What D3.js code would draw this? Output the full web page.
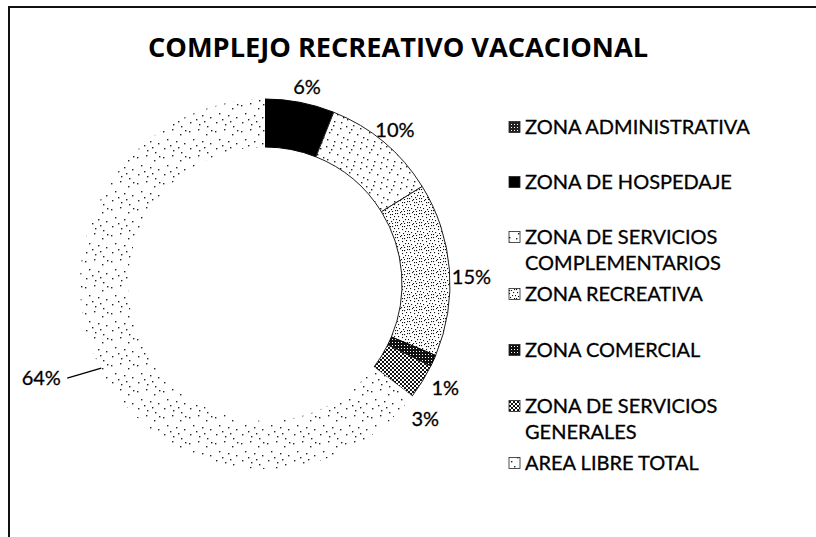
<!DOCTYPE html>
<html><head><meta charset="utf-8">
<script src="https://cdn.jsdelivr.net/npm/d3@7/dist/d3.min.js"></script>
<style>html,body{margin:0;padding:0;background:#fff;}svg{display:block;}</style>
</head><body>
<svg id="chart" width="816" height="537"></svg>
<script>
// ---- data ----
const title = "COMPLEJO RECREATIVO VACACIONAL";
const categories = [
  "ZONA ADMINISTRATIVA",
  "ZONA DE HOSPEDAJE",
  "ZONA DE SERVICIOS COMPLEMENTARIOS",
  "ZONA RECREATIVA",
  "ZONA COMERCIAL",
  "ZONA DE SERVICIOS GENERALES",
  "AREA LIBRE TOTAL"
];
const legendLines = [
  ["ZONA ADMINISTRATIVA"],
  ["ZONA DE HOSPEDAJE"],
  ["ZONA DE SERVICIOS", "COMPLEMENTARIOS"],
  ["ZONA RECREATIVA"],
  ["ZONA COMERCIAL"],
  ["ZONA DE SERVICIOS", "GENERALES"],
  ["AREA LIBRE TOTAL"]
];
const values = [0, 6, 10, 15, 1, 3, 64];
const valueLabels = ["", "6%", "10%", "15%", "1%", "3%", "64%"];

// ---- layout / style (not data) ----
const fills = ["url(#pAdmin)", "#000", "url(#pDotsOutl)", "url(#pStipple)", "url(#pDark)", "url(#pHatch)", "url(#pDots)"];
const strokes = ["#222", "#000", "#222", "#222", "#000", "#222", "none"];
const labelOffset = [[0,0], [7,-15], [11,-12], [22,8], [12,27], [3,37], [-58,12]];
const cx = 265, cy = 284, R = 185, r = 137;

const svg = d3.select("#chart");
const defs = svg.append("defs");
function pat(id, w, h, draw) {
  const p = defs.append("pattern").attr("id", id).attr("patternUnits", "userSpaceOnUse")
    .attr("width", w).attr("height", h);
  p.append("rect").attr("width", w).attr("height", h).attr("fill", "#fff");
  draw(p);
}
function dots(p, pts, s, c) {
  pts.forEach(([x,y]) => p.append("rect").attr("x",x).attr("y",y).attr("width",s).attr("height",s).attr("fill",c));
}
// sparse irregular dots (area libre)
pat("pDots", 26, 26, p => dots(p, [[2,3],[11,1],[19,6],[6,11],[15,13],[23,15],[3,20],[12,22],[20,24],[9,17],[24,2],[17,19]], 1.4, "#222"));
// serv. complementarios
pat("pDotsOutl", 20, 20, p => dots(p, [[1,2],[8,1],[15,4],[4,8],[12,10],[18,13],[2,15],[9,17],[16,18],[6,5]], 1.4, "#222"));
// recreativa (dense stipple)
pat("pStipple", 12, 12, p => dots(p, [[0,1],[3,0],[7,2],[10,1],[1,4],[5,5],[9,4],[11,7],[2,8],[6,9],[8,7],[4,11],[10,10],[0,10],[7,11],[5,2]], 1.1, "#111"));
pat("pDark", 3, 3, p => {
  p.append("rect").attr("width",3).attr("height",3).attr("fill","#111");
  p.append("rect").attr("x",1).attr("y",1).attr("width",1).attr("height",1).attr("fill","#fff");
});
pat("pAdmin", 3, 3, p => {
  p.append("rect").attr("width",3).attr("height",3).attr("fill","#222");
  p.append("rect").attr("x",1).attr("y",1).attr("width",1).attr("height",1).attr("fill","#fff");
});
pat("pHatch", 4, 4, p => {
  p.append("path").attr("d","M0,0L4,4M4,0L0,4").attr("stroke","#111").attr("stroke-width",1);
});

// frame
svg.append("line").attr("x1",8).attr("y1",7).attr("x2",816).attr("y2",7).attr("stroke","#111").attr("stroke-width",2);
svg.append("line").attr("x1",9).attr("y1",6).attr("x2",9).attr("y2",537).attr("stroke","#111").attr("stroke-width",2);

// title
svg.append("text").attr("x", 398).attr("y", 57).attr("text-anchor","middle")
  .attr("font-family","'Open Sans', sans-serif").attr("font-weight","bold").attr("font-size",27)
  .attr("textLength", 500).attr("lengthAdjust","spacingAndGlyphs")
  .attr("fill","#000").text(title);

// donut
const pie = d3.pie().sort(null).value(d => d)(values);
const arc = d3.arc().innerRadius(r).outerRadius(R);
const outerPt = d3.arc().innerRadius(R).outerRadius(R);
const g = svg.append("g").attr("transform", `translate(${cx},${cy})`);
g.selectAll("path.slice").data(pie).join("path").attr("class","slice")
  .attr("d", arc)
  .attr("fill", (d,i) => fills[i])
  .attr("stroke", (d,i) => strokes[i])
  .attr("stroke-width", 1);

// labels
const labelFont = "Lato, sans-serif";
pie.forEach((d,i) => {
  if (!values[i]) return;
  const [bx, by] = outerPt.centroid(d);
  const lx = bx + labelOffset[i][0], ly = by + labelOffset[i][1];
  if (i === values.length - 1) {
    g.append("line").attr("x1", bx + 2).attr("y1", by + 2).attr("x2", lx + 26).attr("y2", ly)
      .attr("stroke","#000").attr("stroke-width",1.4);
  }
  g.append("text").attr("x", lx).attr("y", ly + 7).attr("text-anchor","middle")
    .attr("font-family",labelFont).attr("font-size",20).attr("fill","#000")
    .attr("stroke","#000").attr("stroke-width",0.3)
    .text(valueLabels[i]);
});

// legend
const legY = [127, 182, 237, 294, 350, 406, 463];
const lg = svg.append("g");
legendLines.forEach((lines, i) => {
  lg.append("rect").attr("x", 509).attr("y", legY[i] - 5.5).attr("width", 11).attr("height", 11)
    .attr("fill", fills[i]).attr("stroke", "#222").attr("stroke-width", 0.8);
  lines.forEach((t, j) => {
    lg.append("text").attr("x", 525).attr("y", legY[i] + 7 + j * 26)
      .attr("font-family",labelFont).attr("font-size",20).attr("fill","#000")
      .attr("stroke","#000").attr("stroke-width",0.3)
      .text(t);
  });
});
</script>
</body></html>
